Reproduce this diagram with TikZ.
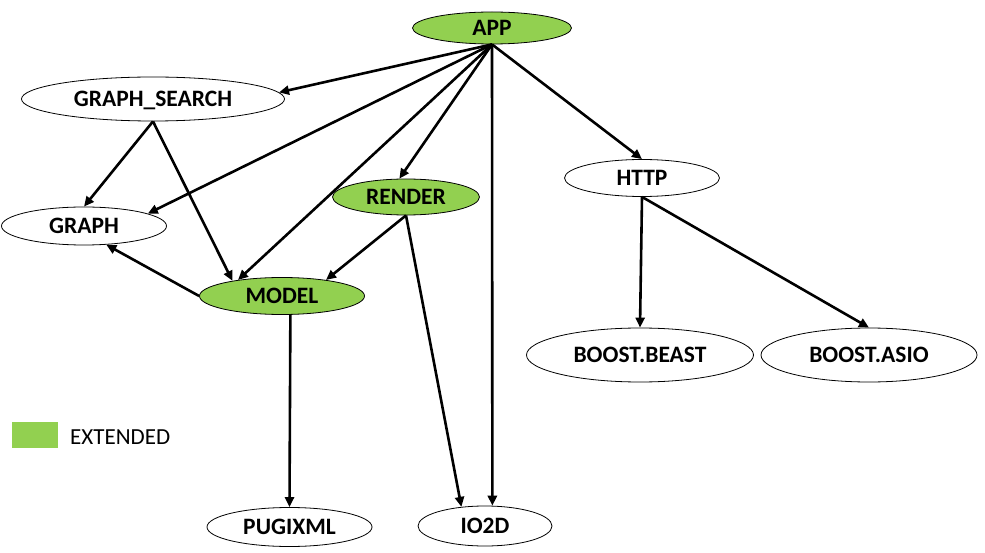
\documentclass[tikz,border=0pt]{standalone}
\usepackage{fontspec}
\setmainfont{Carlito}
\usetikzlibrary{shapes.geometric,arrows.meta}
\definecolor{extgreen}{HTML}{92D050}
\begin{document}
\begin{tikzpicture}[x=1pt, y=-1pt,
  mod/.style={ellipse, draw=black, line width=0.8pt, inner sep=0pt,
    font=\fontsize{23.5}{28}\selectfont\bfseries, text height=15pt, text depth=0pt},
  ext/.style={mod, fill=extgreen},
  dep/.style={line width=2.6pt, -{Triangle[length=10pt,width=9pt]}}]
  \useasboundingbox (0,0) rectangle (985,553);
  % modules
  \node[ext, minimum width=159pt, minimum height=32pt] (app) at (492,28) {APP};
  \node[mod, minimum width=263pt, minimum height=44pt] (gsearch) at (153,99) {GRAPH\_SEARCH};
  \node[mod, minimum width=165pt, minimum height=38pt] (graph) at (84,226) {GRAPH};
  \node[ext, minimum width=147pt, minimum height=36pt] (render) at (406,197) {RENDER};
  \node[mod, minimum width=155pt, minimum height=37pt] (http) at (642,178) {HTTP};
  \node[ext, minimum width=165pt, minimum height=37pt] (model) at (282,296) {MODEL};
  \node[mod, minimum width=227pt, minimum height=54pt] (beast) at (640,355) {BOOST.BEAST};
  \node[mod, minimum width=216pt, minimum height=54pt] (asio) at (869,355) {BOOST.ASIO};
  \node[mod, minimum width=165pt, minimum height=39pt] (pugi) at (289.5,527) {PUGIXML};
  \node[mod, minimum width=134pt, minimum height=40pt] (io) at (485,526) {IO2D};
  % legend
  \node[fill=extgreen, minimum width=46pt, minimum height=26pt, inner sep=0pt] (key) at (35,435) {};
  \node[anchor=west, font=\fontsize{23}{28}\selectfont, inner sep=0pt] (keytext) at (70,437) {EXTENDED};
  % dependencies of APP
  \draw[dep] (app.south) -- (gsearch.3);
  \draw[dep] (app.south) -- (graph.11);
  \draw[dep] (app.south) -- (model.160);
  \draw[dep] (app.south) -- (render.110);
  \draw[dep] (app.south) -- (io.70);
  \draw[dep] (app.south) -- (http.north);
  % the others
  \draw[dep] (gsearch.south) -- (graph.north);
  \draw[dep] (gsearch.south) -- (model.163);
  \draw[dep] (render.south) -- (model.20);
  \draw[dep] (render.south) -- (io.141);
  \draw[dep] (model.west) -- (graph.320);
  \draw[dep] (model.294) -- (pugi.north);
  \draw[dep] (http.south) -- (beast.north);
  \draw[dep] (http.south) -- (asio.north);
\end{tikzpicture}
\end{document}
